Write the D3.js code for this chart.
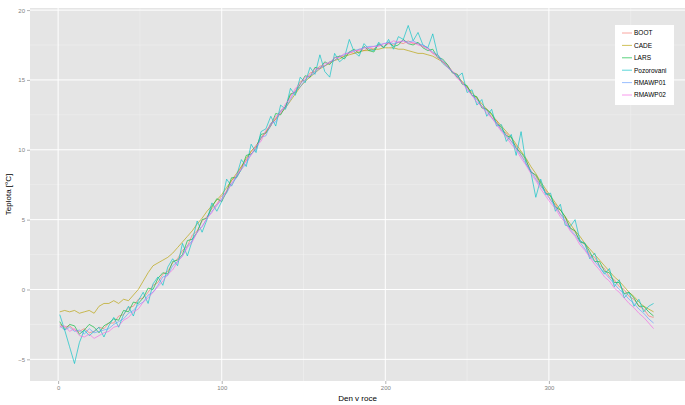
<!DOCTYPE html>
<html>
<head>
<meta charset="utf-8">
<script src="https://cdn.jsdelivr.net/npm/d3@7"></script>
<style>
  html, body { margin: 0; padding: 0; background: #fff; }
  svg { display: block; font-family: "Liberation Sans", Arial, sans-serif; }
  .tick-label { fill: #7f7f7f; font-size: 6px; }
  .axis-title { fill: #000; font-size: 8px; }
  .legend-label { fill: #000; font-size: 6.5px; }
</style>
</head>
<body>
<div id="chart"></div>
<script>
// Daily mean temperature by day of year: observed vs. weather generators
const DAYS = d3.range(1, 366, 3); // sampled every 3rd day, 1..364

const SERIES_NAMES = ["BOOT", "CADE", "LARS", "Pozorovani", "RMAWP01", "RMAWP02"];
const SERIES_COLORS = ["#F8766D", "#B79F00", "#00BA38", "#00BFC4", "#619CFF", "#F564E3"];

const X_TICKS = [0, 100, 200, 300];
const Y_TICKS = [-5, 0, 5, 10, 15, 20];

const BOOT = [
  -2.5, -2.7, -2.6, -2.9, -3.0, -2.8, -3.1, -3.0, -2.7, -2.8,
  -2.4, -2.4, -1.9, -1.8, -1.3, -1.2, -0.7, -0.6, -0.2, 0.3,
  0.5, 1.1, 1.3, 1.9, 2.2, 2.8, 3.1, 3.9, 4.2, 4.9,
  5.2, 5.8, 6.1, 6.7, 7.0, 7.8, 8.1, 8.8, 9.2, 9.9,
  10.2, 10.9, 11.2, 11.9, 12.2, 12.8, 13.1, 13.9, 14.2, 14.9,
  15.0, 15.5, 15.6, 16.0, 16.0, 16.3, 16.4, 16.7, 16.7, 17.0,
  16.9, 17.2, 17.1, 17.3, 17.2, 17.5, 17.4, 17.6, 17.5, 17.7,
  17.6, 17.8, 17.6, 17.6, 17.4, 17.3, 16.9, 16.8, 16.3, 16.1,
  15.6, 15.4, 14.8, 14.5, 13.9, 13.7, 13.1, 12.9, 12.3, 12.1,
  11.4, 11.2, 10.6, 10.3, 9.6, 9.2, 8.5, 8.1, 7.4, 7.1,
  6.4, 6.1, 5.4, 5.1, 4.4, 4.1, 3.5, 3.2, 2.5, 2.3,
  1.7, 1.5, 0.9, 0.7, 0.2, 0.0, -0.5, -0.7, -1.2, -1.4,
  -1.9, -2.0
];

const CADE = [
  -1.6, -1.5, -1.6, -1.5, -1.7, -1.6, -1.5, -1.7, -1.2, -1.0,
  -1.0, -0.8, -1.0, -0.7, -0.8, -0.4, 0.0, 0.6, 1.2, 1.7,
  1.9, 2.1, 2.3, 2.6, 3.0, 3.4, 3.8, 4.2, 4.7, 5.1,
  5.6, 6.0, 6.4, 6.8, 7.3, 7.8, 8.3, 8.8, 9.4, 9.9,
  10.3, 10.8, 11.3, 11.8, 12.2, 12.6, 13.0, 13.5, 14.0, 14.5,
  14.9, 15.2, 15.5, 15.8, 16.0, 16.2, 16.4, 16.5, 16.7, 16.8,
  16.9, 17.0, 17.1, 17.1, 17.2, 17.2, 17.3, 17.3, 17.3, 17.2,
  17.2, 17.1, 17.0, 16.9, 16.9, 16.8, 16.7, 16.5, 16.3, 16.0,
  15.6, 15.2, 14.9, 14.5, 14.1, 13.7, 13.3, 12.9, 12.5, 12.1,
  11.7, 11.3, 10.9, 10.4, 9.9, 9.4, 8.8, 8.3, 7.7, 7.2,
  6.7, 6.2, 5.7, 5.2, 4.7, 4.2, 3.8, 3.3, 2.9, 2.5,
  2.1, 1.7, 1.3, 0.9, 0.6, 0.2, -0.2, -0.5, -0.9, -1.2,
  -1.4, -1.6
];

const LARS = [
  -2.3, -2.9, -2.5, -2.6, -3.2, -2.9, -2.5, -2.7, -3.1, -2.6,
  -2.4, -2.1, -2.2, -1.5, -1.6, -0.9, -1.0, -0.6, 0.1, 0.0,
  0.8, 1.2, 1.1, 2.0, 2.1, 2.5, 3.5, 3.6, 4.1, 5.0,
  5.1, 5.9, 6.5, 6.3, 7.0, 8.0, 8.0, 8.6, 9.6, 9.7,
  10.1, 11.1, 11.2, 11.7, 12.6, 12.5, 13.1, 14.0, 14.1, 14.7,
  15.3, 15.2, 15.9, 15.8, 16.3, 16.1, 16.6, 16.7, 16.5, 17.0,
  17.2, 16.9, 17.4, 17.1, 17.0, 17.6, 17.3, 17.7, 17.4, 17.5,
  17.9, 17.6, 17.5, 17.7, 17.3, 17.1, 17.2, 16.6, 16.5, 16.1,
  15.5, 15.4, 14.7, 14.6, 13.9, 13.8, 13.0, 12.9, 12.6, 11.9,
  11.6, 11.0, 10.9, 10.1, 9.8, 9.3, 8.4, 8.2, 7.6, 6.9,
  6.7, 5.9, 5.7, 5.2, 4.4, 4.2, 3.4, 3.3, 2.7, 2.0,
  2.0, 1.3, 1.2, 0.5, 0.5, -0.3, -0.2, -0.6, -1.2, -1.2,
  -1.6, -1.9
];

const POZOROVANI = [
  -1.8, -2.9, -4.1, -5.3, -3.8, -2.9, -3.3, -3.0, -2.7, -3.4,
  -2.6, -2.0, -2.7, -1.8, -1.2, -1.9, -0.8, -0.2, -1.0, 0.4,
  0.9, 0.3, 1.6, 2.2, 1.7, 3.3, 2.4, 3.5, 4.9, 4.1,
  5.0, 6.2, 5.6, 6.3, 7.9, 7.4, 8.1, 9.3, 8.8, 10.4,
  9.8, 11.3, 11.5, 12.4, 11.7, 13.2, 12.9, 14.4, 13.9, 15.2,
  14.8, 15.9, 15.4, 16.8, 15.6, 15.2, 16.9, 16.3, 16.6, 17.9,
  17.0, 16.7, 17.6, 17.2, 17.1, 17.7, 17.3, 17.9, 17.2, 18.1,
  17.9, 18.9, 17.8, 18.4, 17.5, 17.3, 18.3, 16.8, 16.2, 15.9,
  15.6, 15.2, 15.5, 14.1, 14.3, 13.2, 13.6, 12.4, 12.9, 11.7,
  11.8, 10.6, 11.1, 9.6, 11.3, 9.0, 8.4, 6.6, 7.9, 6.8,
  6.9, 5.6, 6.1, 4.6, 4.5, 5.0, 3.5, 3.3, 2.2, 2.6,
  1.6, 1.1, 1.5, 0.2, 0.7, -0.6, -0.2, -1.2, -0.7, -1.6,
  -1.2, -1.0
];

const RMAWP01 = [
  -2.6, -2.9, -2.7, -3.0, -2.9, -3.2, -2.8, -3.1, -3.0, -2.9,
  -2.8, -2.5, -2.3, -2.1, -1.7, -1.5, -1.1, -0.9, -0.4, -0.2,
  0.3, 0.9, 1.0, 1.7, 2.0, 2.4, 3.1, 3.5, 4.1, 4.5,
  5.1, 5.6, 6.0, 6.5, 6.9, 7.6, 8.0, 8.6, 9.0, 9.7,
  10.0, 10.9, 11.0, 11.9, 12.0, 12.8, 13.0, 13.6, 14.2, 14.5,
  15.0, 15.3, 15.5, 15.9, 16.0, 16.3, 16.4, 16.7, 16.8, 17.0,
  17.1, 17.2, 17.3, 17.4, 17.4, 17.5, 17.6, 17.7, 17.6, 17.7,
  17.8, 17.7, 17.8, 17.6, 17.5, 17.3, 17.0, 16.8, 16.4, 16.0,
  15.6, 15.3, 14.8, 14.4, 13.9, 13.6, 13.1, 12.8, 12.3, 11.9,
  11.4, 11.0, 10.6, 10.1, 9.6, 9.0, 8.5, 7.9, 7.4, 6.9,
  6.4, 5.9, 5.4, 4.9, 4.3, 3.9, 3.4, 2.9, 2.4, 2.0,
  1.6, 1.2, 0.8, 0.4, 0.0, -0.3, -0.7, -1.0, -1.4, -1.7,
  -2.1, -2.4
];

const RMAWP02 = [
  -2.7, -2.6, -3.0, -2.8, -3.3, -3.4, -3.2, -3.5, -3.3, -3.1,
  -3.0, -2.7, -2.6, -2.2, -2.0, -1.6, -1.4, -0.9, -0.6, -0.2,
  0.2, 0.6, 1.1, 1.4, 2.0, 2.4, 3.0, 3.4, 4.1, 4.5,
  5.1, 5.5, 6.1, 6.4, 7.1, 7.5, 8.2, 8.6, 9.3, 9.6,
  10.3, 10.6, 11.4, 11.7, 12.4, 12.6, 13.3, 13.7, 14.4, 14.7,
  15.2, 15.3, 15.8, 15.8, 16.2, 16.2, 16.6, 16.6, 16.9, 16.9,
  17.1, 17.1, 17.3, 17.3, 17.4, 17.4, 17.6, 17.6, 17.8, 17.7,
  17.8, 17.6, 17.7, 17.5, 17.4, 17.2, 16.9, 16.6, 16.3, 15.9,
  15.6, 15.1, 14.8, 14.3, 13.9, 13.4, 13.1, 12.6, 12.3, 11.8,
  11.3, 10.9, 10.4, 10.0, 9.4, 8.9, 8.3, 7.8, 7.2, 6.7,
  6.2, 5.8, 5.2, 4.8, 4.2, 3.8, 3.2, 2.8, 2.3, 1.8,
  1.4, 0.9, 0.6, 0.1, -0.2, -0.6, -1.0, -1.3, -1.7, -2.0,
  -2.4, -2.8
];

const SERIES_VALUES = [BOOT, CADE, LARS, POZOROVANI, RMAWP01, RMAWP02];

(function () {
  const width = 685;
  const height = 405;
  const panel = { left: 30, top: 8, right: 685, bottom: 381 };

  const svg = d3.select("#chart").append("svg")
    .attr("width", width)
    .attr("height", height);

  const x = d3.scaleLinear().domain([-17.2, 383.2]).range([panel.left, panel.right]);
  const y = d3.scaleLinear().domain([-6.55, 20.15]).range([panel.bottom, panel.top]);

  // panel background
  svg.append("rect")
    .attr("x", panel.left)
    .attr("y", panel.top)
    .attr("width", panel.right - panel.left)
    .attr("height", panel.bottom - panel.top)
    .attr("fill", "#e5e5e5");

  const grid = svg.append("g");
  const minorX = [50, 150, 250, 350];
  const minorY = [-2.5, 2.5, 7.5, 12.5, 17.5];

  grid.selectAll("line.minor-x").data(minorX).join("line")
    .attr("x1", (d) => x(d)).attr("x2", (d) => x(d))
    .attr("y1", panel.top).attr("y2", panel.bottom)
    .attr("stroke", "#f2f2f2").attr("stroke-width", 0.5);
  grid.selectAll("line.minor-y").data(minorY).join("line")
    .attr("y1", (d) => y(d)).attr("y2", (d) => y(d))
    .attr("x1", panel.left).attr("x2", panel.right)
    .attr("stroke", "#f2f2f2").attr("stroke-width", 0.5);
  grid.selectAll("line.major-x").data(X_TICKS).join("line")
    .attr("x1", (d) => x(d)).attr("x2", (d) => x(d))
    .attr("y1", panel.top).attr("y2", panel.bottom)
    .attr("stroke", "#fff").attr("stroke-width", 1);
  grid.selectAll("line.major-y").data(Y_TICKS).join("line")
    .attr("y1", (d) => y(d)).attr("y2", (d) => y(d))
    .attr("x1", panel.left).attr("x2", panel.right)
    .attr("stroke", "#fff").attr("stroke-width", 1);

  // axes
  const xAxis = svg.append("g")
    .attr("transform", `translate(0,${panel.bottom})`)
    .call(d3.axisBottom(x).tickValues(X_TICKS).tickSize(3).tickPadding(2));
  const yAxis = svg.append("g")
    .attr("transform", `translate(${panel.left},0)`)
    .call(d3.axisLeft(y).tickValues(Y_TICKS).tickSize(3).tickPadding(2));

  [xAxis, yAxis].forEach((axis) => {
    axis.select(".domain").remove();
    axis.selectAll(".tick line").attr("stroke", "#7f7f7f").attr("stroke-width", 0.6);
    axis.selectAll(".tick text")
      .attr("class", "tick-label")
      .attr("fill", "#7f7f7f")
      .style("font-size", "6px")
      .style("font-family", "'Liberation Sans', Arial, sans-serif");
  });

  // lines
  const line = d3.line()
    .x((d) => x(d.day))
    .y((d) => y(d.value));

  const lineData = SERIES_NAMES.map((name, i) => ({
    name,
    color: SERIES_COLORS[i],
    points: DAYS.map((day, j) => ({ day, value: SERIES_VALUES[i][j] })),
  }));

  svg.append("g")
    .selectAll("path")
    .data(lineData)
    .join("path")
    .attr("d", (d) => line(d.points))
    .attr("fill", "none")
    .attr("stroke", (d) => d.color)
    .attr("stroke-width", 0.9)
    .attr("stroke-opacity", 0.72)
    .attr("stroke-linejoin", "round");

  // axis titles
  svg.append("text")
    .attr("class", "axis-title")
    .attr("x", (panel.left + panel.right) / 2)
    .attr("y", 401)
    .attr("text-anchor", "middle")
    .text("Den v roce");

  svg.append("text")
    .attr("class", "axis-title")
    .attr("transform", `translate(11,${(panel.top + panel.bottom) / 2}) rotate(-90)`)
    .attr("text-anchor", "middle")
    .text("Teplota [°C]");

  // legend
  const legend = svg.append("g");
  legend.append("rect")
    .attr("x", 615).attr("y", 25)
    .attr("width", 59).attr("height", 80)
    .attr("fill", "#fff");

  const items = legend.selectAll("g.item")
    .data(lineData)
    .join("g")
    .attr("class", "item")
    .attr("transform", (d, i) => `translate(0,${33 + i * 12.4})`);

  items.append("line")
    .attr("x1", 622).attr("x2", 632)
    .attr("y1", 0).attr("y2", 0)
    .attr("stroke", (d) => d.color)
    .attr("stroke-width", 0.9)
    .attr("stroke-opacity", 0.72);

  items.append("text")
    .attr("class", "legend-label")
    .attr("x", 634)
    .attr("y", 2.3)
    .text((d) => d.name);
})();
</script>
</body>
</html>
